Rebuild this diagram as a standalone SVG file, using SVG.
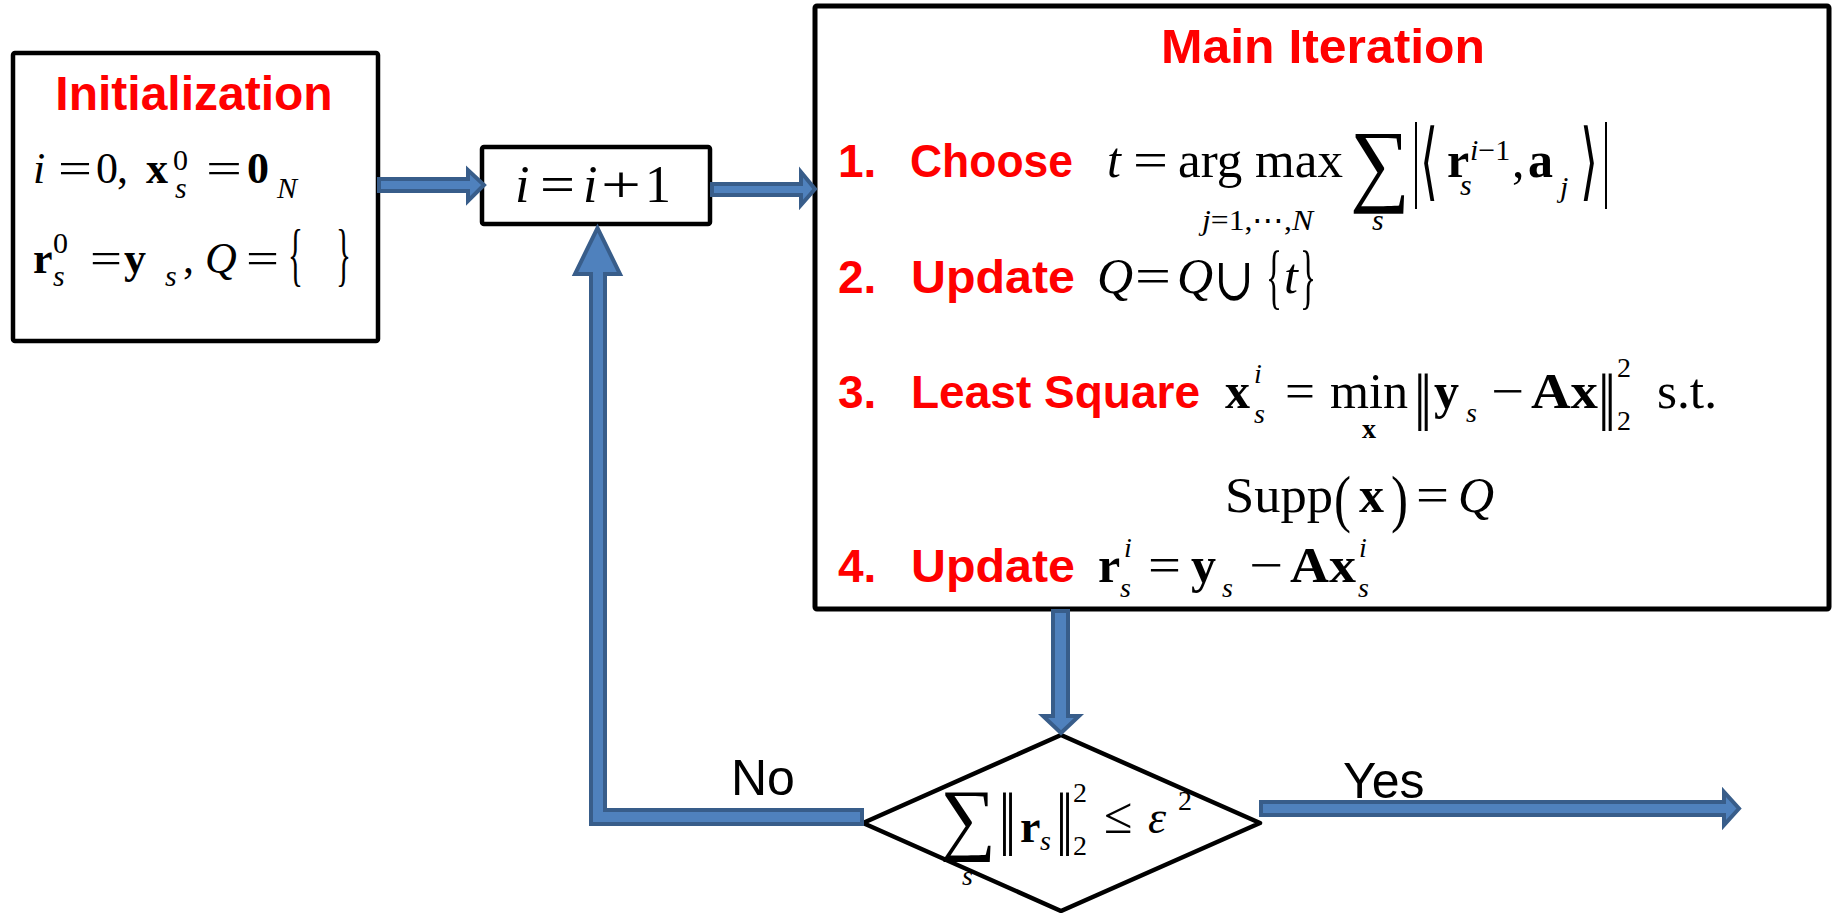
<svg xmlns="http://www.w3.org/2000/svg" width="1833" height="913" viewBox="0 0 1833 913">
<style>
.box{fill:#fff;stroke:#000;stroke-width:4.5;stroke-linejoin:round}
.arr{fill:#4F81BD;stroke:#385D8A;stroke-width:4;stroke-linejoin:miter}
.m{font-family:"Liberation Serif","DejaVu Serif",serif;fill:#000}
.i{font-style:italic}
.b{font-weight:bold}
.lbl{font-family:"Liberation Sans",Arial,sans-serif;font-weight:bold;fill:#FF0000;font-size:46px}
.yn{font-family:"Liberation Sans",Arial,sans-serif;font-size:50px;fill:#000}
</style>
<rect width="1833" height="913" fill="#fff"/>

<g id="init">
<rect class="box" x="13" y="53" width="365" height="288" rx="2"/>
<text class="lbl" x="194" y="110" text-anchor="middle" style="font-size:48px">Initialization</text>
<g class="m" font-size="44">
<text class="i" x="33" y="183">i</text>
<text x="58" y="183" textLength="34" lengthAdjust="spacingAndGlyphs">=</text>
<text x="96" y="183">0</text>
<text x="117" y="183">,</text>
<text class="b" x="146" y="183">x</text>
<text x="173" y="170" font-size="30">0</text>
<text class="i" x="175" y="198" font-size="30">s</text>
<text x="206" y="183" textLength="36" lengthAdjust="spacingAndGlyphs">=</text>
<text class="b" x="247" y="183">0</text>
<text class="i" x="277" y="198" font-size="30">N</text>
<text class="b" x="33" y="273">r</text>
<text x="53" y="253" font-size="30">0</text>
<text class="i" x="53" y="286" font-size="30">s</text>
<text x="90" y="273" textLength="32" lengthAdjust="spacingAndGlyphs">=</text>
<text class="b" x="124" y="273">y</text>
<text class="i" x="165" y="286" font-size="30">s</text>
<text x="183" y="273">,</text>
<text class="i" x="205" y="273">Q</text>
<text x="246" y="273" textLength="33" lengthAdjust="spacingAndGlyphs">=</text>
<text x="288" y="278" font-size="70" textLength="15" lengthAdjust="spacingAndGlyphs">{</text>
<text x="336" y="278" font-size="70" textLength="15" lengthAdjust="spacingAndGlyphs">}</text>
</g>
</g>

<g id="increment">
<rect class="box" x="482" y="147" width="228" height="77" rx="2"/>
<g class="m" font-size="52">
<text class="i" x="515" y="202">i</text>
<text x="540" y="202" textLength="35" lengthAdjust="spacingAndGlyphs">=</text>
<text class="i" x="583" y="202">i</text>
<text x="601" y="202" textLength="40" lengthAdjust="spacingAndGlyphs">+</text>
<text x="645" y="202">1</text>
</g>
</g>

<g id="main">
<rect class="box" x="815" y="6" width="1014" height="603" rx="2" style="stroke-width:5"/>
<text class="lbl" x="1323" y="63" text-anchor="middle" style="font-size:48px" textLength="324" lengthAdjust="spacingAndGlyphs">Main Iteration</text>
<text class="lbl" x="838" y="177">1.</text>
<text class="lbl" x="910" y="177" textLength="163" lengthAdjust="spacingAndGlyphs">Choose</text>
<text class="lbl" x="838" y="293">2.</text>
<text class="lbl" x="911" y="293" textLength="164" lengthAdjust="spacingAndGlyphs">Update</text>
<text class="lbl" x="838" y="408">3.</text>
<text class="lbl" x="911" y="408" textLength="289" lengthAdjust="spacingAndGlyphs">Least Square</text>
<text class="lbl" x="838" y="582">4.</text>
<text class="lbl" x="911" y="582" textLength="164" lengthAdjust="spacingAndGlyphs">Update</text>
<g class="m" font-size="50">
<!-- step 1 -->
<text class="i" x="1107" y="177">t</text>
<text x="1133" y="177" textLength="35" lengthAdjust="spacingAndGlyphs">=</text>
<text x="1178" y="177" textLength="165" lengthAdjust="spacingAndGlyphs">arg max</text>
<text x="1202" y="230" font-size="30" textLength="111" lengthAdjust="spacingAndGlyphs"><tspan class="i">j</tspan>=1,⋯,<tspan class="i">N</tspan></text>
<text x="1350" y="194" font-size="92" textLength="60" lengthAdjust="spacingAndGlyphs">∑</text>
<text class="i" x="1372" y="230" font-size="30">s</text>
<text x="1412" y="189" font-size="95" textLength="8" lengthAdjust="spacingAndGlyphs">|</text>
<text x="1420" y="190" font-size="85" textLength="18" lengthAdjust="spacingAndGlyphs">⟨</text>
<text class="b" x="1447" y="177">r</text>
<text x="1470" y="160" font-size="30"><tspan class="i">i</tspan>−1</text>
<text class="i" x="1460" y="195" font-size="30">s</text>
<text x="1512" y="177">,</text>
<text class="b" x="1528" y="177">a</text>
<text class="i" x="1560" y="197" font-size="30">j</text>
<text x="1580" y="190" font-size="85" textLength="18" lengthAdjust="spacingAndGlyphs">⟩</text>
<text x="1602" y="189" font-size="95" textLength="8" lengthAdjust="spacingAndGlyphs">|</text>
<!-- step 2 -->
<text class="i" x="1097" y="293">Q</text>
<text x="1135" y="293" textLength="36" lengthAdjust="spacingAndGlyphs">=</text>
<text class="i" x="1177" y="293">Q</text>
<text x="1214" y="300" font-size="60" textLength="40" lengthAdjust="spacingAndGlyphs">∪</text>
<text x="1266" y="300" font-size="72" textLength="16" lengthAdjust="spacingAndGlyphs">{</text>
<text class="i" x="1284" y="293">t</text>
<text x="1300" y="300" font-size="72" textLength="16" lengthAdjust="spacingAndGlyphs">}</text>
<!-- step 3 -->
<text class="b" x="1225" y="408">x</text>
<text class="i" x="1254" y="383" font-size="28">i</text>
<text class="i" x="1254" y="423" font-size="28">s</text>
<text x="1285" y="408" textLength="30" lengthAdjust="spacingAndGlyphs">=</text>
<text x="1330" y="408" textLength="78" lengthAdjust="spacingAndGlyphs">min</text>
<text class="b" x="1362" y="438" font-size="28">x</text>
<text x="1414" y="431" font-size="82" textLength="18" lengthAdjust="spacingAndGlyphs">‖</text>
<text class="b" x="1434" y="408">y</text>
<text class="i" x="1466" y="422" font-size="28">s</text>
<text x="1491" y="408" textLength="33" lengthAdjust="spacingAndGlyphs">−</text>
<text class="b" x="1531" y="408" textLength="67" lengthAdjust="spacingAndGlyphs">Ax</text>
<text x="1598" y="431" font-size="82" textLength="18" lengthAdjust="spacingAndGlyphs">‖</text>
<text x="1617" y="377" font-size="28">2</text>
<text x="1617" y="430" font-size="28">2</text>
<text x="1657" y="408" textLength="60" lengthAdjust="spacingAndGlyphs">s.t.</text>
<!-- supp -->
<text x="1225" y="512" textLength="108" lengthAdjust="spacingAndGlyphs">Supp</text>
<text x="1334" y="520" font-size="64" textLength="17" lengthAdjust="spacingAndGlyphs">(</text>
<text class="b" x="1359" y="512">x</text>
<text x="1391" y="520" font-size="64" textLength="17" lengthAdjust="spacingAndGlyphs">)</text>
<text x="1416" y="512" textLength="33" lengthAdjust="spacingAndGlyphs">=</text>
<text class="i" x="1458" y="512">Q</text>
<!-- step 4 -->
<text class="b" x="1098" y="582">r</text>
<text class="i" x="1124" y="557" font-size="28">i</text>
<text class="i" x="1120" y="597" font-size="28">s</text>
<text x="1148" y="582" textLength="33" lengthAdjust="spacingAndGlyphs">=</text>
<text class="b" x="1191" y="582">y</text>
<text class="i" x="1222" y="597" font-size="28">s</text>
<text x="1249" y="582" textLength="34" lengthAdjust="spacingAndGlyphs">−</text>
<text class="b" x="1290" y="582" textLength="66" lengthAdjust="spacingAndGlyphs">Ax</text>
<text class="i" x="1359" y="557" font-size="28">i</text>
<text class="i" x="1358" y="597" font-size="28">s</text>
</g>
</g>

<g id="decision">
<polygon class="box" points="1061,735 1260,823 1061,911 863,823"/>
<g class="m" font-size="46">
<text x="940" y="845" font-size="80" textLength="56" lengthAdjust="spacingAndGlyphs">∑</text>
<text class="i" x="962" y="885" font-size="28">s</text>
<text x="999" y="856" font-size="92" textLength="17" lengthAdjust="spacingAndGlyphs">‖</text>
<text class="b" x="1020" y="842">r</text>
<text class="i" x="1040" y="850" font-size="28">s</text>
<text x="1056" y="856" font-size="92" textLength="17" lengthAdjust="spacingAndGlyphs">‖</text>
<text x="1073" y="802" font-size="28">2</text>
<text x="1073" y="855" font-size="28">2</text>
<text x="1104" y="833" font-size="52">≤</text>
<text class="i" x="1148" y="833">ε</text>
<text x="1178" y="810" font-size="28">2</text>
</g>
</g>

<g id="connectors">
<polygon class="arr" points="379,179 468,179 468,170 484,185 468,201 468,191 379,191"/>
<polygon class="arr" points="712,184 801,184 801,172 815,189 801,205 801,195 712,195"/>
<polygon class="arr" points="1053,611 1068,611 1068,716 1079,716 1061,733 1043,716 1053,716"/>
<polygon class="arr" points="862,810 605,810 605,274 620,274 597.5,228 575,274 591,274 591,824 862,824"/>
<polygon class="arr" points="1261,802 1724,802 1724,792 1739,808.5 1724,825 1724,815 1261,815"/>
<text class="yn" x="731" y="795">No</text>
<text class="yn" x="1343" y="798">Yes</text>
</g>
</svg>
